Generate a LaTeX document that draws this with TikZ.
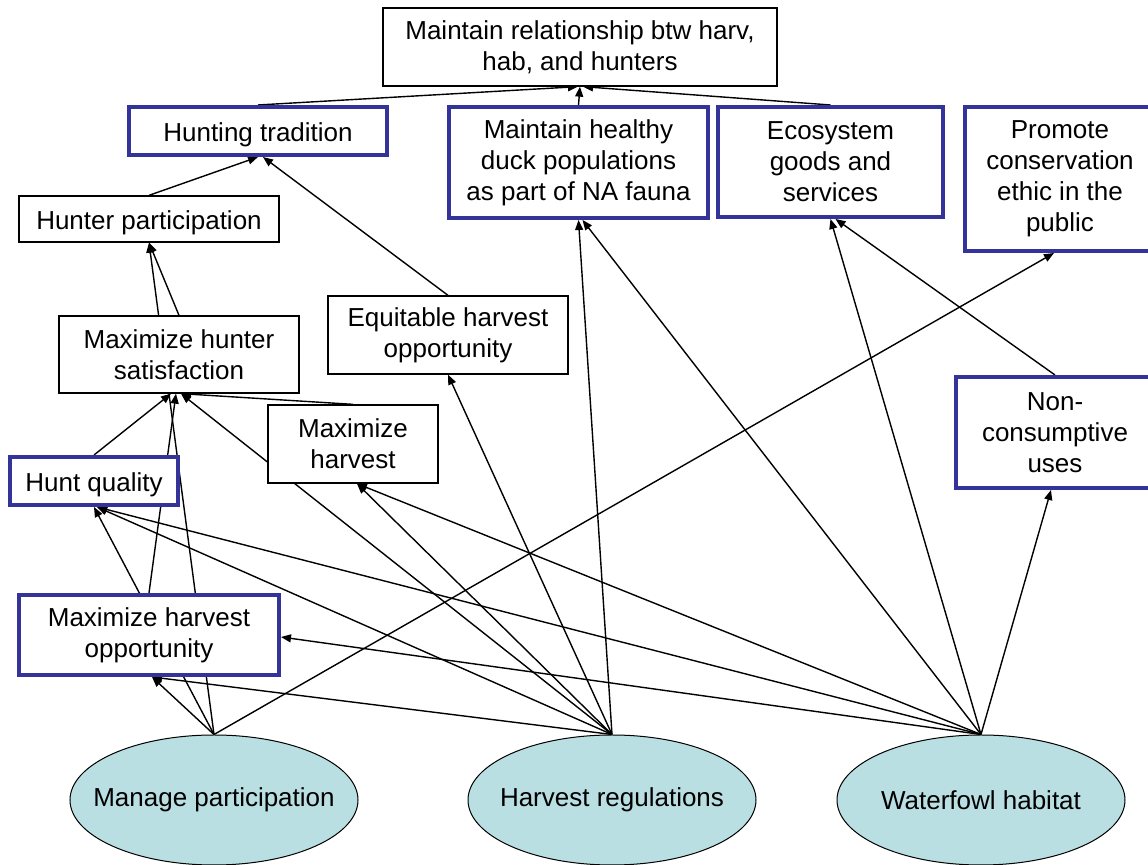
\documentclass[tikz,border=0pt]{standalone}
\usepackage{fontspec}
\setmainfont{Liberation Sans}
\usepackage{xcolor}
\usetikzlibrary{arrows.meta,shapes.geometric,backgrounds}
\definecolor{goalblue}{RGB}{51,51,153}
\definecolor{ovalcyan}{RGB}{185,223,227}

\begin{document}
\begin{tikzpicture}[x=0.5pt,y=-0.5pt,
    font=\fontsize{13}{15.5}\selectfont,
    plainbox/.style={draw=black,line width=0.65pt,fill=white,align=center,inner sep=0pt,
        execute at begin node={\rule{0pt}{12.8pt}}},
    goalbox/.style={draw=goalblue,line width=2pt,fill=white,align=center,inner sep=0pt,
        execute at begin node={\rule{0pt}{12.8pt}}},
    oval/.style={ellipse,draw=black,line width=0.5pt,fill=ovalcyan,inner sep=0pt,
        minimum width=144pt,minimum height=65pt},
    link/.style={line width=0.7pt,-{Triangle[length=5pt,width=4pt]}}]
    \useasboundingbox (0,0) rectangle (1148,865);

    % 目标节点
    \node[plainbox,minimum width=197pt,minimum height=39pt] (rel) at (580,47) {Maintain relationship btw harv,\\hab, and hunters};
    \node[goalbox,minimum width=129pt,minimum height=24pt] (trad) at (258,131) {Hunting tradition};
    \node[goalbox,minimum width=129.5pt,minimum height=55.5pt] (duck) at (578.5,162.5) {Maintain healthy\\duck populations\\as part of NA fauna};
    \node[goalbox,minimum width=112.5pt,minimum height=55pt] (eco) at (830.5,162) {Ecosystem\\goods and\\services};
    \node[goalbox,minimum width=95pt,minimum height=72pt] (ethic) at (1060,179) {Promote\\conservation\\ethic in the\\public};
    \node[plainbox,minimum width=130pt,minimum height=23pt] (part) at (149,219) {Hunter participation};
    \node[plainbox,minimum width=120pt,minimum height=38.5pt] (satis) at (179,354.5) {Maximize hunter\\satisfaction};
    \node[plainbox,minimum width=120pt,minimum height=39pt] (equit) at (448,335) {Equitable harvest\\opportunity};
    \node[plainbox,minimum width=85pt,minimum height=39pt] (maxharv) at (353,444) {Maximize\\harvest};
    \node[goalbox,minimum width=84pt,minimum height=24pt] (quality) at (94,481) {Hunt quality};
    \node[goalbox,minimum width=99pt,minimum height=55.5pt] (noncons) at (1055,432.5) {Non-\\consumptive\\uses};
    \node[goalbox,minimum width=130pt,minimum height=40pt] (harvopp) at (149,635) {Maximize harvest\\opportunity};

    % 决策节点
    \node[oval] (manage) at (214,800) {\makebox[0pt]{Manage participation}};
    \node[oval] (regs) at (612,800) {\makebox[0pt]{Harvest regulations}};
    \node[oval] (water) at (981,800) {\makebox[0pt]{Waterfowl habitat}};

    % 连线 (在方框后面)
    \begin{scope}[on background layer]
    \draw[link] (trad.north) -- ([xshift=-1pt]rel.south);
    \draw[link] (duck.north) -- (rel.south);
    \draw[link] (eco.north) -- ([xshift=1.5pt]rel.south);
    \draw[link] (part.north) -- (trad.south);
    \draw[link] (equit.north) -- ([xshift=2.5pt]trad.south);
    \draw[link] (satis.north) -- (part.south);
    \draw[link] (manage.north) -- (part.south);
    \draw[link] (quality.north) -- ([xshift=-4pt]satis.south);
    \draw[link] (harvopp.north) -- ([xshift=-1.5pt]satis.south);
    \draw[link] (maxharv.north) -- ([xshift=1pt]satis.south);
    \draw[link] (regs.north) -- ([xshift=1pt]satis.south);
    \draw[link] (manage.north) -- ([xshift=1.5pt]harvopp.south);
    \draw[link] (manage.north) -- (quality.south);
    \draw[link] (manage.north) -- ([xshift=-3pt]ethic.south);
    \draw[link] (regs.north) -- (duck.south);
    \draw[link] (regs.north) -- (equit.south);
    \draw[link] (regs.north) -- ([xshift=2pt]maxharv.south);
    \draw[link] (regs.north) -- ([xshift=1.5pt]quality.south);
    \draw[link] (regs.north) -- ([xshift=1.5pt]harvopp.south);
    \draw[link] (water.north) -- ([xshift=-2pt]noncons.south);
    \draw[link] (water.north) -- (eco.south);
    \draw[link] (water.north) -- ([xshift=2pt]duck.south);
    \draw[link] (water.north) -- ([xshift=2pt]maxharv.south);
    \draw[link] (water.north) -- ([xshift=1.5pt]quality.south);
    \draw[link] (water.north) -- ([yshift=-1pt]harvopp.east);
    \draw[link] (noncons.north) -- ([xshift=2.5pt]eco.south);
    \end{scope}

\end{tikzpicture}
\end{document}
